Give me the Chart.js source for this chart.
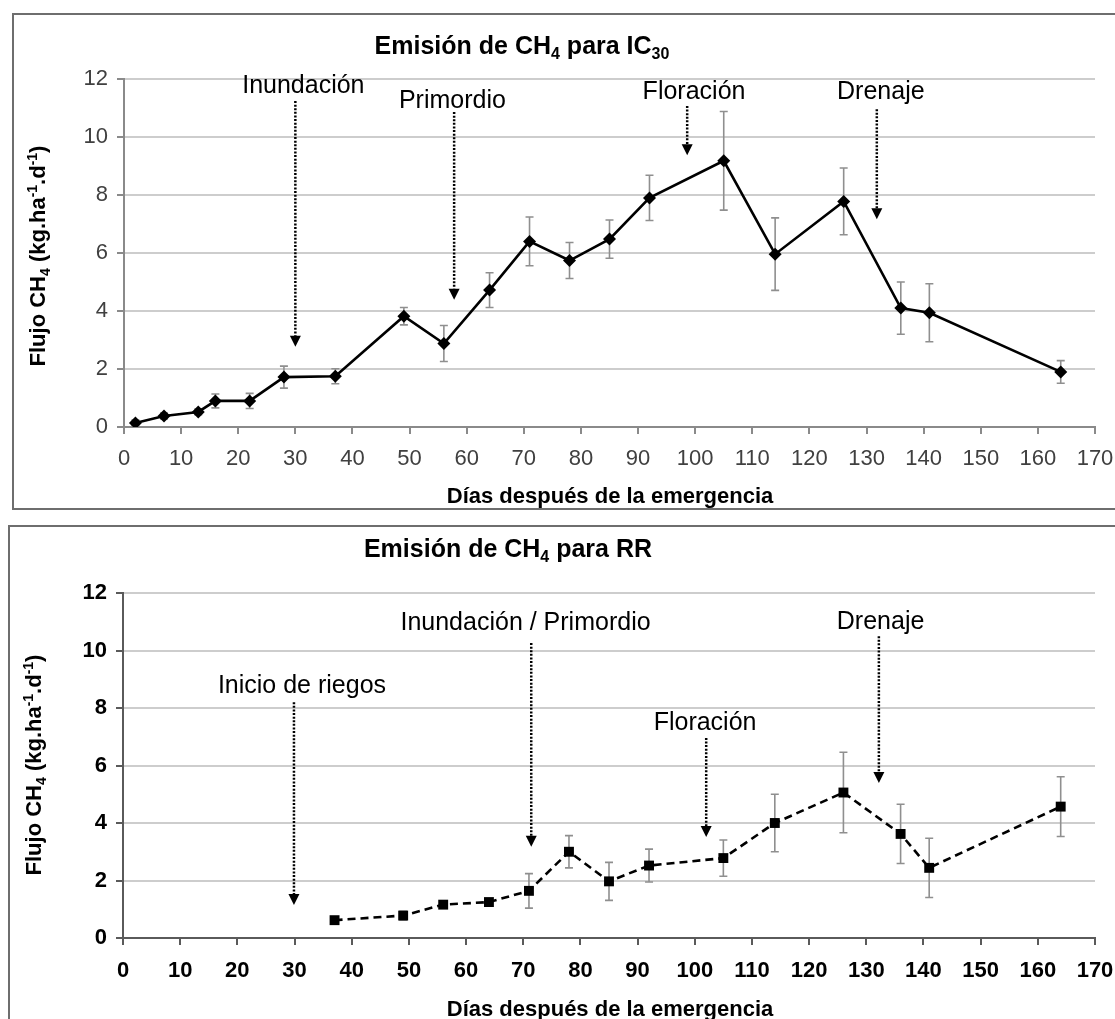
<!DOCTYPE html>
<html>
<head>
<meta charset="utf-8">
<script src="https://cdn.jsdelivr.net/npm/chart.js@4"></script>
<style>
    body { margin: 0; background: #fff; width: 1115px; height: 1019px; overflow: hidden; position: relative; }
    .marco { position: absolute; border: 2px solid #6e6e6e; }
    #marcoIC { left: 12px; top: 13px; width: 1120px; height: 493px; }
    #marcoRR { left: 8px; top: 525px; width: 1120px; height: 520px; }
    canvas { position: absolute; left: 0; }
    #grafIC { top: 0; }
    #grafRR { top: 512px; }
</style>
</head>
<body>
<div class="marco" id="marcoIC"></div>
<div class="marco" id="marcoRR"></div>
<canvas id="grafIC" width="1140" height="512"></canvas>
<canvas id="grafRR" width="1140" height="507"></canvas>
<script>
// IC30
const diasIC = [2, 7, 13, 16, 22, 28, 37, 49, 56, 64, 71, 78, 85, 92, 105, 114, 126, 136, 141, 164];
const flujoIC = [0.14, 0.38, 0.52, 0.9, 0.9, 1.72, 1.75, 3.82, 2.88, 4.72, 6.4, 5.74, 6.48, 7.9, 9.18, 5.96, 7.78, 4.1, 3.94, 1.9];
const errorIC = [0.1, 0.1, 0.1, 0.24, 0.26, 0.38, 0.26, 0.3, 0.62, 0.6, 0.84, 0.62, 0.66, 0.78, 1.7, 1.25, 1.15, 0.9, 1.0, 0.39];

// RR
const diasRR = [37, 49, 56, 64, 71, 78, 85, 92, 105, 114, 126, 136, 141, 164];
const flujoRR = [0.62, 0.78, 1.16, 1.25, 1.64, 3.0, 1.97, 2.52, 2.78, 4.0, 5.06, 3.62, 2.44, 4.57];
const errorRR = [0.08, 0.15, 0.1, 0.1, 0.6, 0.56, 0.66, 0.57, 0.63, 1.0, 1.4, 1.03, 1.03, 1.04];

// eventos del cultivo (flechas)
const eventosIC = ['Inundación', 'Primordio', 'Floración', 'Drenaje'];
const eventosICDia = [30, 57.8, 98.6, 131.8];
const eventosICTextoDia = [31.4, 57.5, 99.8, 132.5];
const eventosICTextoY = [11.83, 11.31, 11.62, 11.62];
const eventosICDesde = [11.24, 10.86, 11.07, 10.96];
const eventosICHasta = [2.77, 4.39, 9.37, 7.16];

const eventosRR = ['Inicio de riegos', 'Inundación / Primordio', 'Floración', 'Drenaje'];
const eventosRRDia = [29.9, 71.4, 102, 132.2];
const eventosRRTextoDia = [31.3, 70.4, 101.8, 132.5];
const eventosRRTextoY = [8.83, 11.03, 7.55, 11.06];
const eventosRRDesde = [8.2, 10.26, 6.96, 10.5];
const eventosRRHasta = [1.15, 3.17, 3.51, 5.39];

const FAMILIA = '"Liberation Sans", Arial, sans-serif';
Chart.defaults.font.family = FAMILIA;

// texto con subindices / superindices
function textoRico(ctx, partes, x, y, tam, peso) {
    const fuentes = partes.map(p => `${peso} ${p[1] ? Math.round(tam * 0.62) : tam}px ${FAMILIA}`);
    let total = 0;
    const anchos = partes.map((p, i) => {
        ctx.font = fuentes[i];
        const w = ctx.measureText(p[0]).width;
        total += w;
        return w;
    });
    let cx = x - total / 2;
    ctx.textAlign = 'left';
    ctx.textBaseline = 'alphabetic';
    const base = y + tam * 0.358;
    partes.forEach((p, i) => {
        let dy = 0;
        if (p[1] === 'sub') dy = tam * 0.22;
        if (p[1] === 'sup') dy = -tam * 0.38;
        ctx.font = fuentes[i];
        ctx.fillText(p[0], cx, base + dy);
        cx += anchos[i];
    });
}

function flecha(ctx, x, y1, y2) {
    const cab = 11;
    ctx.save();
    ctx.strokeStyle = '#000';
    ctx.fillStyle = '#000';
    ctx.lineWidth = 2.5;
    ctx.setLineDash([2, 1.6]);
    ctx.beginPath();
    ctx.moveTo(x, y1);
    ctx.lineTo(x, y2 - cab);
    ctx.stroke();
    ctx.setLineDash([]);
    ctx.beginPath();
    ctx.moveTo(x - 5.5, y2 - cab);
    ctx.lineTo(x + 5.5, y2 - cab);
    ctx.lineTo(x, y2);
    ctx.closePath();
    ctx.fill();
    ctx.restore();
}

const extras = {
    grafIC: {
        dias: diasIC, flujo: flujoIC, error: errorIC,
        eventos: eventosIC, eDia: eventosICDia, eTextoDia: eventosICTextoDia, eTextoY: eventosICTextoY,
        eDesde: eventosICDesde, eHasta: eventosICHasta,
        titulo: [['Emisión de CH', ''], ['4', 'sub'], [' para IC', ''], ['30', 'sub']],
        tituloPos: [522, 45],
        ejeX: [610, 495], ejeY: [37, 256]
    },
    grafRR: {
        dias: diasRR, flujo: flujoRR, error: errorRR,
        eventos: eventosRR, eDia: eventosRRDia, eTextoDia: eventosRRTextoDia, eTextoY: eventosRRTextoY,
        eDesde: eventosRRDesde, eHasta: eventosRRHasta,
        titulo: [['Emisión de CH', ''], ['4', 'sub'], [' para RR', '']],
        tituloPos: [508, 36],
        ejeX: [610, 496], ejeY: [33, 253]
    }
};

const dibujoExtra = {
    id: 'dibujoExtra',
    beforeDatasetsDraw(chart) {
        const ex = extras[chart.canvas.id];
        const { ctx, scales: { x, y } } = chart;
        ctx.save();
        ctx.strokeStyle = '#8f8f8f';
        ctx.lineWidth = 1.6;
        ex.dias.forEach((d, i) => {
            const px = x.getPixelForValue(d);
            const arriba = y.getPixelForValue(ex.flujo[i] + ex.error[i]);
            const abajo = y.getPixelForValue(ex.flujo[i] - ex.error[i]);
            ctx.beginPath();
            ctx.moveTo(px, arriba);
            ctx.lineTo(px, abajo);
            ctx.moveTo(px - 4, arriba);
            ctx.lineTo(px + 4, arriba);
            ctx.moveTo(px - 4, abajo);
            ctx.lineTo(px + 4, abajo);
            ctx.stroke();
        });
        ctx.restore();
    },
    afterDraw(chart) {
        const ex = extras[chart.canvas.id];
        const { ctx, scales: { x, y } } = chart;
        ctx.save();
        ctx.fillStyle = '#000';
        textoRico(ctx, ex.titulo, ex.tituloPos[0], ex.tituloPos[1], 25, 'bold');
        textoRico(ctx, [['Días después de la emergencia', '']], ex.ejeX[0], ex.ejeX[1], 22, 'bold');
        ctx.save();
        ctx.translate(ex.ejeY[0], ex.ejeY[1]);
        ctx.rotate(-Math.PI / 2);
        textoRico(ctx, [['Flujo CH', ''], ['4', 'sub'], [' (kg.ha', ''], ['-1', 'sup'], ['.d', ''], ['-1', 'sup'], [')', '']], 0, 0, 22, 'bold');
        ctx.restore();
        ex.eventos.forEach((nombre, i) => {
            ctx.fillStyle = '#000';
            textoRico(ctx, [[nombre, '']], x.getPixelForValue(ex.eTextoDia[i]), y.getPixelForValue(ex.eTextoY[i]), 25, 'normal');
            flecha(ctx, x.getPixelForValue(ex.eDia[i]), y.getPixelForValue(ex.eDesde[i]), y.getPixelForValue(ex.eHasta[i]));
        });
        ctx.restore();
    }
};

function crearGrafico(id, dias, flujo, estilo) {
    const lienzo = document.getElementById(id);
    const alto = lienzo.height;
    new Chart(lienzo, {
        type: 'scatter',
        data: {
            datasets: [{
                data: dias.map((d, i) => ({ x: d, y: flujo[i] })),
                showLine: true,
                borderColor: '#000',
                backgroundColor: '#000',
                borderWidth: 2.6,
                borderDash: estilo.dash,
                pointStyle: estilo.punto,
                pointRadius: estilo.radio,
                pointBorderWidth: 0
            }]
        },
        options: {
            responsive: false,
            animation: false,
            // el area de dibujo termina en x=1095
            layout: { padding: { top: estilo.arriba, right: lienzo.width - 1095, left: 0, bottom: 0 } },
            plugins: { legend: { display: false }, tooltip: { enabled: false } },
            scales: {
                x: {
                    type: 'linear',
                    min: 0,
                    max: 170,
                    afterFit: s => { s.height = alto - estilo.abajo; },
                    ticks: { stepSize: 10, color: estilo.colorTexto, font: { size: 22, weight: estilo.peso }, padding: estilo.sepX, maxRotation: 0 },
                    grid: { drawOnChartArea: false, drawTicks: true, tickLength: 7, tickColor: estilo.colorEje, lineWidth: 2 },
                    border: { color: estilo.colorEje, width: 2 }
                },
                y: {
                    min: 0,
                    max: 12,
                    afterFit: s => { s.width = estilo.izq; },
                    ticks: { stepSize: 2, color: estilo.colorTexto, font: { size: 22, weight: estilo.peso }, padding: 9 },
                    grid: { color: '#cdcdcd', lineWidth: 2, tickLength: 7, tickColor: estilo.colorEje },
                    border: { color: estilo.colorEje, width: 2 }
                }
            }
        },
        plugins: [dibujoExtra]
    });
}

crearGrafico('grafIC', diasIC, flujoIC, {
    dash: [], punto: 'rectRot', radio: 6.5, arriba: 79, abajo: 427, izq: 124, sepX: 12,
    colorTexto: '#404040', colorEje: '#8a8a8a', peso: 'normal'
});
crearGrafico('grafRR', diasRR, flujoRR, {
    dash: [8, 5], punto: 'rect', radio: 7, arriba: 81, abajo: 426, izq: 123, sepX: 13,
    colorTexto: '#000', colorEje: '#5a5a5a', peso: 'bold'
});
</script>
</body>
</html>
